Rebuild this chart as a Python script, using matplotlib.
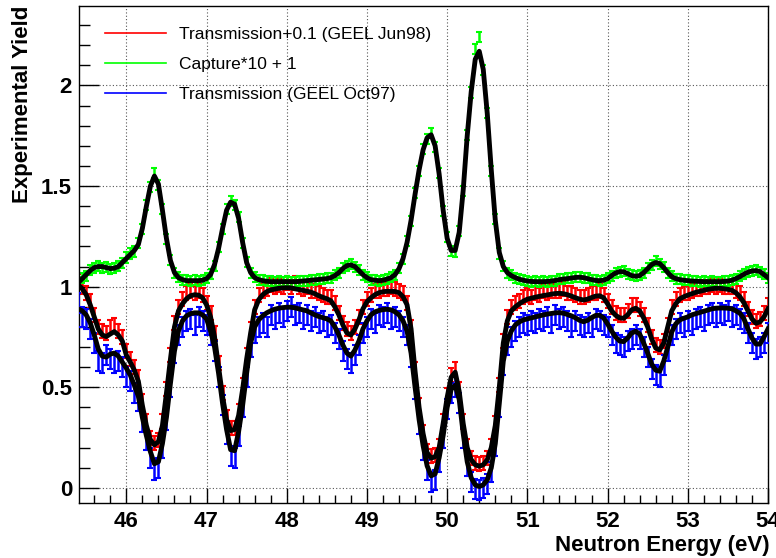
import numpy as np
import matplotlib
matplotlib.use("Agg")
import matplotlib.pyplot as plt
from matplotlib.lines import Line2D
from matplotlib.ticker import MultipleLocator

# Energy grid of the measurement (eV), 0.05 eV bins from 45.40 to 54.00
energy = np.linspace(45.40, 54.00, 173)

# Transmission, GEEL Oct97 (blue): measured points and fit
trans_oct97 = [
    0.92, 0.85, 0.84, 0.79, 0.72, 0.63, 0.62, 0.66, 0.64, 0.62,
    0.63, 0.60, 0.55, 0.53, 0.47, 0.43, 0.33, 0.24, 0.15, 0.09,
    0.10, 0.20, 0.34, 0.50, 0.67, 0.76, 0.80, 0.83, 0.84, 0.81,
    0.85, 0.83, 0.81, 0.76, 0.68, 0.55, 0.41, 0.27, 0.16, 0.15,
    0.26, 0.40, 0.55, 0.70, 0.77, 0.80, 0.82, 0.80, 0.86, 0.84,
    0.87, 0.85, 0.88, 0.90, 0.86, 0.87, 0.84, 0.86, 0.83, 0.85,
    0.82, 0.83, 0.80, 0.81, 0.77, 0.74, 0.68, 0.64, 0.62, 0.66,
    0.71, 0.77, 0.80, 0.84, 0.82, 0.86, 0.85, 0.87, 0.84, 0.85,
    0.83, 0.80, 0.76, 0.65, 0.49, 0.32, 0.19, 0.09, 0.03, 0.04,
    0.13, 0.25, 0.39, 0.47, 0.50, 0.42, 0.25, 0.11, 0.03, -0.005,
    -0.01, 0.00, 0.02, 0.08, 0.21, 0.40, 0.61, 0.71, 0.75, 0.78,
    0.80, 0.82, 0.81, 0.83, 0.82, 0.84, 0.83, 0.85, 0.82, 0.86,
    0.84, 0.85, 0.83, 0.80, 0.83, 0.81, 0.80, 0.82, 0.80, 0.84,
    0.83, 0.81, 0.80, 0.76, 0.72, 0.71, 0.70, 0.73, 0.74, 0.76,
    0.74, 0.70, 0.65, 0.59, 0.56, 0.55, 0.61, 0.68, 0.76, 0.79,
    0.82, 0.80, 0.83, 0.81, 0.84, 0.85, 0.83, 0.86, 0.87, 0.85,
    0.87, 0.86, 0.88, 0.85, 0.86, 0.84, 0.82, 0.77, 0.72, 0.69,
    0.70, 0.72, 0.77,
]
fit_oct97 = [
    0.89, 0.88, 0.86, 0.82, 0.76, 0.69, 0.655, 0.65, 0.665, 0.67,
    0.655, 0.625, 0.595, 0.56, 0.51, 0.455, 0.35, 0.26, 0.18, 0.12,
    0.13, 0.22, 0.35, 0.52, 0.68, 0.78, 0.83, 0.855, 0.866, 0.87,
    0.87, 0.86, 0.84, 0.78, 0.70, 0.57, 0.42, 0.29, 0.19, 0.185,
    0.28, 0.41, 0.57, 0.72, 0.80, 0.835, 0.855, 0.87, 0.88, 0.888,
    0.893, 0.896, 0.898, 0.898, 0.895, 0.89, 0.885, 0.88, 0.87, 0.86,
    0.852, 0.846, 0.84, 0.83, 0.80, 0.76, 0.71, 0.67, 0.655, 0.685,
    0.73, 0.79, 0.83, 0.86, 0.875, 0.882, 0.886, 0.888, 0.885, 0.875,
    0.86, 0.83, 0.78, 0.67, 0.50, 0.34, 0.21, 0.11, 0.06, 0.07,
    0.15, 0.26, 0.40, 0.49, 0.51, 0.44, 0.27, 0.13, 0.05, 0.015,
    0.007, 0.015, 0.04, 0.10, 0.22, 0.42, 0.63, 0.73, 0.78, 0.81,
    0.825, 0.835, 0.84, 0.845, 0.85, 0.855, 0.86, 0.864, 0.867, 0.87,
    0.871, 0.868, 0.862, 0.855, 0.845, 0.833, 0.826, 0.833, 0.846, 0.857,
    0.858, 0.845, 0.815, 0.78, 0.75, 0.73, 0.727, 0.745, 0.77, 0.778,
    0.765, 0.72, 0.67, 0.615, 0.585, 0.58, 0.63, 0.70, 0.775, 0.815,
    0.835, 0.843, 0.85, 0.86, 0.866, 0.872, 0.878, 0.884, 0.89, 0.893,
    0.894, 0.894, 0.893, 0.89, 0.88, 0.868, 0.84, 0.79, 0.745, 0.715,
    0.715, 0.75, 0.79,
]

# Transmission, GEEL Jun98 (red, drawn +0.1): measured points and fit
trans_jun98 = [
    0.93, 0.90, 0.87, 0.83, 0.76, 0.70, 0.68, 0.67, 0.70, 0.71,
    0.68, 0.65, 0.58, 0.54, 0.50, 0.45, 0.33, 0.23, 0.15, 0.125,
    0.14, 0.23, 0.39, 0.56, 0.72, 0.80, 0.84, 0.87, 0.88, 0.87,
    0.88, 0.86, 0.82, 0.77, 0.67, 0.52, 0.37, 0.25, 0.20, 0.20,
    0.28, 0.41, 0.56, 0.69, 0.80, 0.86, 0.88, 0.89, 0.91, 0.90,
    0.91, 0.90, 0.92, 0.90, 0.92, 0.90, 0.89, 0.90, 0.88, 0.88,
    0.87, 0.86, 0.85, 0.85, 0.82, 0.77, 0.72, 0.69, 0.67, 0.70,
    0.75, 0.80, 0.84, 0.86, 0.88, 0.88, 0.89, 0.89, 0.90, 0.89,
    0.88, 0.87, 0.82, 0.70, 0.49, 0.31, 0.18, 0.085, 0.06, 0.065,
    0.11, 0.23, 0.36, 0.46, 0.49, 0.39, 0.23, 0.11, 0.05, 0.025,
    0.02, 0.025, 0.05, 0.11, 0.22, 0.41, 0.63, 0.75, 0.80, 0.82,
    0.83, 0.85, 0.86, 0.85, 0.87, 0.86, 0.88, 0.87, 0.88, 0.88,
    0.88, 0.89, 0.87, 0.87, 0.86, 0.85, 0.85, 0.86, 0.87, 0.87,
    0.88, 0.86, 0.83, 0.80, 0.77, 0.76, 0.76, 0.78, 0.81, 0.81,
    0.79, 0.76, 0.71, 0.65, 0.61, 0.60, 0.63, 0.71, 0.80, 0.84,
    0.86, 0.87, 0.87, 0.88, 0.89, 0.89, 0.90, 0.90, 0.91, 0.90,
    0.91, 0.90, 0.90, 0.90, 0.88, 0.87, 0.84, 0.79, 0.75, 0.73,
    0.74, 0.77, 0.81,
]
fit_jun98 = [
    0.91, 0.89, 0.86, 0.81, 0.75, 0.69, 0.66, 0.652, 0.665, 0.677,
    0.66, 0.63, 0.56, 0.525, 0.485, 0.43, 0.31, 0.21, 0.14, 0.114,
    0.13, 0.21, 0.37, 0.54, 0.70, 0.78, 0.815, 0.84, 0.855, 0.86,
    0.858, 0.845, 0.81, 0.75, 0.65, 0.50, 0.354, 0.24, 0.185, 0.19,
    0.26, 0.39, 0.54, 0.67, 0.785, 0.835, 0.86, 0.875, 0.884, 0.888,
    0.892, 0.894, 0.895, 0.894, 0.89, 0.886, 0.882, 0.878, 0.873, 0.865,
    0.855, 0.847, 0.84, 0.83, 0.80, 0.76, 0.71, 0.67, 0.66, 0.69,
    0.735, 0.79, 0.825, 0.845, 0.86, 0.87, 0.875, 0.877, 0.877, 0.876,
    0.87, 0.85, 0.81, 0.69, 0.48, 0.30, 0.17, 0.075, 0.048, 0.055,
    0.10, 0.22, 0.35, 0.45, 0.475, 0.38, 0.22, 0.10, 0.04, 0.015,
    0.008, 0.015, 0.04, 0.10, 0.21, 0.40, 0.62, 0.73, 0.78, 0.80,
    0.815, 0.828, 0.838, 0.843, 0.848, 0.852, 0.856, 0.859, 0.863, 0.866,
    0.867, 0.865, 0.86, 0.853, 0.845, 0.838, 0.834, 0.838, 0.846, 0.853,
    0.855, 0.845, 0.815, 0.78, 0.758, 0.745, 0.743, 0.76, 0.785, 0.793,
    0.78, 0.745, 0.70, 0.64, 0.595, 0.586, 0.62, 0.70, 0.78, 0.815,
    0.84, 0.85, 0.858, 0.865, 0.872, 0.877, 0.882, 0.887, 0.89, 0.892,
    0.892, 0.89, 0.887, 0.882, 0.87, 0.85, 0.82, 0.78, 0.74, 0.718,
    0.725, 0.75, 0.79,
]

# Capture yield (green, drawn *10 + 1): measured points and fit
capture = [
    0.0025, 0.0045, 0.0055, 0.0085, 0.0095, 0.0105, 0.0095, 0.0098, 0.0088, 0.0095,
    0.0105, 0.0118, 0.0145, 0.0165, 0.0175, 0.0215, 0.0285, 0.0405, 0.0495, 0.0565,
    0.0505, 0.0385, 0.0235, 0.0135, 0.0068, 0.0048, 0.0032, 0.0031, 0.0028, 0.0032,
    0.0029, 0.0034, 0.0041, 0.0062, 0.0105, 0.0195, 0.0285, 0.0385, 0.0425, 0.0405,
    0.0345, 0.0215, 0.0125, 0.0068, 0.0046, 0.0033, 0.0031, 0.0026, 0.0027, 0.0024,
    0.0026, 0.0024, 0.0027, 0.0025, 0.0023, 0.0027, 0.0029, 0.0028, 0.0034, 0.0033,
    0.0037, 0.0036, 0.0042, 0.0044, 0.0057, 0.0068, 0.0092, 0.0103, 0.0112, 0.0098,
    0.0082, 0.0058, 0.0046, 0.0034, 0.0033, 0.0029, 0.0033, 0.0037, 0.0047, 0.0058,
    0.0092, 0.0138, 0.0225, 0.0325, 0.0465, 0.0575, 0.0685, 0.0735, 0.0765, 0.0695,
    0.0565, 0.0375, 0.0245, 0.0178, 0.0172, 0.0275, 0.0475, 0.0755, 0.0965, 0.1180,
    0.1240, 0.1075, 0.0865, 0.0575, 0.0335, 0.0165, 0.0102, 0.0068, 0.0057, 0.0044,
    0.0038, 0.0031, 0.0029, 0.0025, 0.0026, 0.0024, 0.0026, 0.0025, 0.0029, 0.0030,
    0.0036, 0.0037, 0.0042, 0.0041, 0.0048, 0.0046, 0.0044, 0.0041, 0.0034, 0.0032,
    0.0029, 0.0033, 0.0041, 0.0054, 0.0069, 0.0074, 0.0076, 0.0064, 0.0056, 0.0051,
    0.0056, 0.0068, 0.0092, 0.0108, 0.0128, 0.0112, 0.0096, 0.0068, 0.0051, 0.0039,
    0.0036, 0.0031, 0.0031, 0.0027, 0.0028, 0.0025, 0.0026, 0.0024, 0.0026, 0.0025,
    0.0024, 0.0027, 0.0027, 0.0033, 0.0039, 0.0052, 0.0061, 0.0073, 0.0077, 0.0082,
    0.0074, 0.0061, 0.0044,
]
fit_capture = [
    0.002, 0.004, 0.006, 0.008, 0.0095, 0.010, 0.010, 0.0095, 0.009, 0.0092,
    0.010, 0.012, 0.014, 0.016, 0.018, 0.021, 0.029, 0.040, 0.050, 0.055,
    0.051, 0.038, 0.024, 0.013, 0.007, 0.0045, 0.0035, 0.003, 0.003, 0.003,
    0.003, 0.0032, 0.004, 0.006, 0.011, 0.019, 0.029, 0.038, 0.042, 0.041,
    0.034, 0.022, 0.012, 0.007, 0.0045, 0.0035, 0.003, 0.0027, 0.0025, 0.0025,
    0.0025, 0.0025, 0.0025, 0.0025, 0.0025, 0.0026, 0.0028, 0.003, 0.0032, 0.0034,
    0.0036, 0.0038, 0.004, 0.0045, 0.0055, 0.007, 0.009, 0.0105, 0.0108, 0.010,
    0.008, 0.006, 0.0045, 0.0035, 0.0032, 0.003, 0.0032, 0.0038, 0.0045, 0.006,
    0.009, 0.014, 0.022, 0.033, 0.046, 0.058, 0.068, 0.074, 0.0755, 0.070,
    0.056, 0.038, 0.024, 0.018, 0.018, 0.027, 0.048, 0.075, 0.097, 0.113,
    0.117, 0.108, 0.086, 0.058, 0.033, 0.017, 0.010, 0.007, 0.0055, 0.0045,
    0.0037, 0.0032, 0.0028, 0.0026, 0.0025, 0.0025, 0.0025, 0.0026, 0.0028, 0.0031,
    0.0035, 0.0038, 0.004, 0.0043, 0.0046, 0.0047, 0.0045, 0.004, 0.0035, 0.0031,
    0.003, 0.0032, 0.004, 0.0055, 0.0068, 0.0075, 0.0074, 0.0065, 0.0055, 0.0052,
    0.0055, 0.007, 0.009, 0.011, 0.012, 0.0115, 0.0095, 0.007, 0.005, 0.004,
    0.0035, 0.0032, 0.003, 0.0028, 0.0027, 0.0026, 0.0025, 0.0025, 0.0025, 0.0025,
    0.0025, 0.0026, 0.0028, 0.0032, 0.004, 0.005, 0.0062, 0.0072, 0.0078, 0.008,
    0.0075, 0.006, 0.0045,
]

# Uncertainties of the measured points
err_oct97 = 0.05
err_jun98 = 0.035
err_capture = 0.0025

labels = [
    "Transmission+0.1 (GEEL Jun98)",
    "Capture*10 + 1",
    "Transmission (GEEL Oct97)",
]


def format_plot() -> None:
    plt.rcParams["font.family"] = ["Liberation Sans", "DejaVu Sans"]
    plt.rcParams["axes.linewidth"] = 1.0
    plt.rcParams["xtick.direction"] = "in"
    plt.rcParams["ytick.direction"] = "in"
    plt.rcParams["xtick.top"] = False
    plt.rcParams["ytick.right"] = False


def plot_yield():
    format_plot()
    fig = plt.figure(figsize=(7.76, 5.58), dpi=100)
    ax = fig.add_axes([79 / 776, 55 / 558, 689 / 776, 497 / 558])

    red, green, blue = "#ff0000", "#00ff00", "#0000ff"
    ebar = dict(fmt="none", elinewidth=1.8, capsize=2.5, capthick=1.5)

    ax.errorbar(energy, np.array(trans_jun98) + 0.1, yerr=err_jun98, ecolor=red, zorder=2, **ebar)
    ax.errorbar(energy, np.array(capture) * 10 + 1, yerr=err_capture * 10, ecolor=green, zorder=2, **ebar)
    ax.errorbar(energy, trans_oct97, yerr=err_oct97, ecolor=blue, zorder=3, **ebar)

    fit_style = dict(color="black", linewidth=3.5, zorder=5, solid_joinstyle="round")
    ax.plot(energy, np.array(fit_jun98) + 0.1, **fit_style)
    ax.plot(energy, np.array(fit_capture) * 10 + 1, **fit_style)
    ax.plot(energy, fit_oct97, **fit_style)

    ax.set_xlim(45.41, 54.0)
    ax.set_ylim(-0.075, 2.395)
    ax.xaxis.set_major_locator(MultipleLocator(1))
    ax.xaxis.set_minor_locator(MultipleLocator(0.2))
    ax.yaxis.set_major_locator(MultipleLocator(0.5))
    ax.yaxis.set_minor_locator(MultipleLocator(0.1))
    ax.yaxis.set_major_formatter(plt.FuncFormatter(lambda v, p: f"{v:g}"))

    ax.tick_params(axis="x", which="major", length=10.8, width=1.0, pad=6, labelsize=16)
    ax.tick_params(axis="x", which="minor", length=5.8, width=1.0)
    ax.tick_params(axis="y", which="major", length=14.4, width=1.0, pad=5, labelsize=16)
    ax.tick_params(axis="y", which="minor", length=7.9, width=1.0)
    for lab in ax.get_xticklabels() + ax.get_yticklabels():
        lab.set_fontweight("bold")

    ax.grid(True, which="major", color="#555555", linestyle=(0, (1, 2)), linewidth=0.8)
    ax.set_axisbelow(True)

    ax.set_xlabel("Neutron Energy (eV)", fontsize=16, fontweight="bold", loc="right")
    ax.xaxis.set_label_coords(1.003, -0.064)
    ax.set_ylabel("Experimental Yield", fontsize=16, fontweight="bold", loc="top")
    ax.yaxis.set_label_coords(-0.067, 1.0)

    handles = [Line2D([], [], color=c, linewidth=1.2) for c in (red, green, blue)]
    ax.legend(handles, labels, loc="upper left", bbox_to_anchor=(0.038, 0.958),
              frameon=False, fontsize=12.5, handlelength=3.5, handletextpad=0.75,
              labelspacing=0.85, borderaxespad=0, borderpad=0)

    plt.savefig("out.png", dpi=100)


if __name__ == "__main__":
    plot_yield()
